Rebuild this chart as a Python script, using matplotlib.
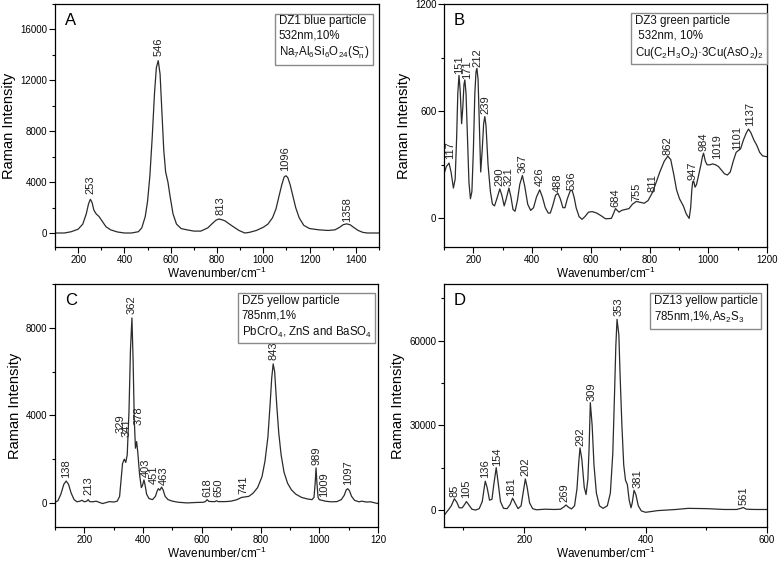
import matplotlib
matplotlib.use("Agg")
import matplotlib.pyplot as plt
from matplotlib.ticker import FixedLocator, FixedFormatter, MultipleLocator

plt.rcParams["font.family"] = ["Liberation Sans", "DejaVu Sans"]
plt.rcParams["mathtext.fontset"] = "custom"
plt.rcParams["mathtext.rm"] = "Liberation Sans"
plt.rcParams["mathtext.it"] = "Liberation Sans:italic"
plt.rcParams["mathtext.bf"] = "Liberation Sans:bold"

# ---- panel A: DZ1 blue particle ----
a_x = [100, 140, 170, 200, 220, 235, 245, 253, 260, 268, 278, 290, 305, 320, 340, 370, 400, 430,
       460, 475, 490, 500, 510, 520, 530, 538, 546, 554, 562, 570, 578, 588, 598, 610, 625, 645,
       670, 700, 730, 760, 780, 795, 808, 820, 835, 850, 870, 895, 920, 940, 970, 1000, 1020,
       1040, 1055, 1068, 1080, 1090, 1098, 1106, 1116, 1128, 1140, 1155, 1175, 1200, 1240, 1280,
       1310, 1330, 1345, 1360, 1375, 1390, 1410, 1430, 1450, 1500]
a_y = [0, 0, 100, 300, 700, 1500, 2300, 2650, 2400, 1800, 1500, 1300, 900, 500, 250, 80, 0, 0,
       100, 400, 1300, 2500, 4500, 7500, 11000, 13000, 13550, 12500, 9500, 6500, 4800, 4000, 2800,
       1500, 700, 350, 250, 150, 150, 400, 750, 1000, 1100, 1050, 950, 750, 500, 200, 0, 50, 200,
       450, 700, 1200, 1900, 2900, 3800, 4400, 4500, 4350, 3800, 2900, 2000, 1200, 600, 350, 250,
       200, 250, 450, 650, 720, 650, 450, 200, 50, 0, 0]
a_peaks = ["253", "546", "813", "1096", "1358"]
a_peak_x = [253, 546, 813, 1096, 1362]
a_peak_y = [3100, 13900, 1400, 4900, 900]

# ---- panel B: DZ3 green particle ----
b_x = [100, 108, 117, 124, 132, 138, 143, 147, 151, 155, 160, 164, 168, 171, 175, 180, 185, 190,
       195, 200, 205, 209, 212, 216, 220, 225, 230, 235, 239, 243, 250, 258, 265, 272, 280, 290,
       297, 305, 312, 321, 328, 335, 342, 350, 358, 367, 375, 385, 395, 405, 415, 426, 435, 445,
       455, 462, 470, 480, 488, 496, 505, 512, 520, 530, 536, 543, 550, 560, 570, 580, 592, 605,
       620, 635, 650, 670, 678, 684, 690, 696, 705, 718, 730, 742, 755, 768, 782, 795, 805, 811,
       820, 835, 850, 862, 872, 882, 892, 902, 915, 925, 935, 940, 944, 947, 950, 955, 960, 968,
       975, 980, 984, 990, 996, 1005, 1015, 1025, 1035, 1045, 1055, 1065, 1075, 1085, 1095, 1101,
       1110, 1120, 1130, 1137, 1145, 1155, 1165, 1175, 1185, 1200]
b_y = [250, 290, 310, 260, 170, 220, 450, 700, 800, 720, 530, 620, 750, 775, 700, 450, 200, 110,
       150, 380, 700, 820, 840, 780, 550, 260, 380, 530, 570, 520, 300, 150, 80, 70, 110, 165,
       130, 70, 110, 170, 120, 50, 40, 100, 190, 240, 180, 80, 45, 60, 120, 160, 120, 60,
       30, 30, 70, 130, 140, 110, 60, 60, 110, 155, 158, 120, 60, 10, -5, 10, 35, 38,
       30, 15, -2, 0, 30, 55, 45, 35, 45, 50, 55, 80, 95, 90, 85, 100, 130, 150,
       190, 260, 320, 348, 330, 250, 160, 110, 70, 25, 0, 60, 160, 205, 210, 175, 190, 250,
       300, 345, 365, 320, 300, 300, 305, 300, 290, 270, 250, 243, 260, 320, 370, 378,
       390, 440, 480, 500, 480, 440, 410, 370, 350, 345]
b_peaks = ["117", "151", "171", "212", "239", "290", "321", "367", "426", "488", "536", "684",
           "755", "811", "862", "947", "984", "1019", "1101", "1137"]
b_peak_x = [122, 150, 179, 214, 241, 290, 321, 367, 426, 488, 536, 684, 755, 811, 862, 947, 984,
            1030, 1098, 1143]
b_peak_y = [330, 810, 780, 845, 585, 180, 180, 255, 180, 150, 160, 66, 100, 150, 356, 216, 375,
            330, 385, 515]

# ---- panel C: DZ5 yellow particle ----
c_x = [100, 110, 120, 130, 138, 146, 155, 165, 175, 185, 192, 200, 208, 213, 218, 228, 240, 250,
       262, 275, 285, 300, 312, 320, 326, 330, 336, 341, 346, 352, 357, 362, 366, 370, 374, 378,
       382, 388, 394, 398, 403, 407, 412, 420, 432, 442, 448, 452, 457, 463, 468, 475, 485, 500,
       520, 550, 580, 605, 612, 618, 624, 635, 645, 650, 656, 680, 700, 720, 735, 745, 760, 775,
       790, 805, 815, 825, 833, 838, 843, 848, 855, 862, 870, 880, 892, 905, 920, 940, 960, 975,
       982, 986, 989, 992, 996, 1000, 1009, 1020, 1040, 1060, 1075, 1085, 1092, 1097, 1103, 1110,
       1120, 1135, 1145, 1160, 1175, 1190, 1200]
c_y = [30, 100, 400, 850, 1000, 850, 450, 150, 50, 80, 120, 50, 80, 150, 60, 50, 80, 30,
       -30, 20, 60, 40, 80, 300, 1200, 1800, 2000, 1850, 2200, 4200, 7000, 8450, 6500, 3800, 2500,
       2800, 2300, 1300, 700, 800, 1050, 800, 400, 200, 150, 300, 550, 650, 580, 720, 600, 300,
       150, 80, 30, 0, 20, 30, 60, 150, 70, 60, 60, 100, 60, 60, 80, 150, 250, 270, 300, 450,
       700, 1200, 1900, 3000, 4600, 5700, 6350, 6000, 4500, 3200, 2200, 1400, 900, 600, 400, 250,
       180, 150, 250, 900, 1600, 900, 250, 150, 120, 80, 50, 60, 150, 350, 600, 650, 550, 300,
       120, 50, 80, 40, 50, 0, -30]
c_peaks = ["138", "213", "329", "341", "362", "378", "403", "451", "463", "618", "650", "741",
           "843", "989", "1009", "1097"]
c_peak_x = [138, 213, 322, 345, 362, 385, 408, 437, 470, 618, 655, 741, 843, 989, 1015, 1097]
c_peak_y = [1150, 350, 3200, 3000, 8650, 3550, 1200, 850, 800, 250, 250, 400, 6550, 1750, 280, 800]

# ---- panel D: DZ13 yellow particle ----
d_x = [68, 72, 76, 80, 85, 89, 93, 98, 102, 105, 109, 114, 120, 126, 131, 134, 136, 139, 143, 147,
       150, 154, 157, 161, 166, 172, 177, 181, 185, 190, 195, 199, 202, 205, 209, 214, 220, 235,
       250, 260, 266, 269, 273, 278, 283, 287, 290, 292, 295, 299, 302, 305, 307, 309, 312, 315,
       319, 324, 330, 337, 342, 346, 349, 351, 353, 356, 358, 361, 364, 367, 370, 373, 376, 378,
       381, 384, 388, 393, 400, 420, 450, 470, 500, 530, 550, 557, 561, 566, 580, 600]
d_y = [-2000, -800, 300, 1500, 4000, 2800, 800, 800, 2000, 3000, 1800, 300, 0, 500, 3000, 7500,
       10200, 8000, 3500, 3800, 9000, 15000, 10000, 3000, 600, 500, 2000, 4200, 2500, 500, 1500,
       7000, 11000, 8000, 2500, 500, 100, 300, 200, 300, 1200, 1800, 1000, 400, 1500, 7500, 17000,
       22000, 18000, 8000, 5500, 11000, 22000, 38000, 30000, 16000, 6000, 1500, 600, 1500, 6000,
       20000, 42000, 58000, 67500, 62000, 48000, 30000, 16000, 10500, 9000, 3500, 800, 2500, 7000,
       5500, 1500, -300, -800, -200, 200, 600, 500, 200, 200, 600, 900, 300, 200, 200]
d_peaks = ["85", "105", "136", "154", "181", "202", "269", "292", "309", "353", "381", "561"]
d_peak_x = [85, 104, 136, 156, 179, 202, 267, 292, 311, 355, 386, 561]
d_peak_y = [4750, 4150, 11300, 15500, 4800, 11900, 3000, 22600, 38600, 68800, 7800, 1800]

LINE = "#2b2b2b"
W, H = 778, 561


def add_axes(fig, left, top, right, bottom):
    return fig.add_axes([left / W, 1 - bottom / H, (right - left) / W, (bottom - top) / H])


def draw_panel(ax, x, y, peaks, px, py, letter, note, note_pos, xlim, ylim,
               xmajor, xminor, ymajor, yminor):
    ax.plot(x, y, color=LINE, lw=0.9)
    for label, lx, ly in zip(peaks, px, py):
        ax.text(lx, ly, label, rotation=90, ha="center", va="bottom", fontsize=8, color="#222")
    ax.set_xlim(*xlim)
    ax.set_ylim(*ylim)
    ax.xaxis.set_major_locator(MultipleLocator(xmajor))
    ax.xaxis.set_minor_locator(MultipleLocator(xminor))
    ax.yaxis.set_major_locator(MultipleLocator(ymajor))
    ax.yaxis.set_minor_locator(MultipleLocator(yminor))
    ax.tick_params(which="both", direction="out", top=False, right=False, labelsize=7, pad=1.5)
    ax.tick_params(which="major", length=4, width=0.8)
    ax.tick_params(which="minor", length=2.5, width=0.8)
    for s in ax.spines.values():
        s.set_linewidth(0.9)
    ax.set_xlabel("Wavenumber/cm$^{-1}$", fontsize=8.5, labelpad=0.5)
    ax.set_ylabel("Raman Intensity", fontsize=10.5, labelpad=3)
    ax.text(0.03, 0.965, letter, transform=ax.transAxes, ha="left", va="top", fontsize=12)
    ax.text(note_pos[0], note_pos[1], note, transform=ax.transAxes, ha="left", va="top",
            fontsize=8.3, linespacing=1.3, color="#111",
            bbox=dict(boxstyle="square,pad=0.3", fc="white", ec="#8a8a8a", lw=1.0))


fig = plt.figure(figsize=(W / 100, H / 100), dpi=100)

ax_a = add_axes(fig, 55, 4, 379, 247)
draw_panel(ax_a, a_x, a_y, a_peaks, a_peak_x, a_peak_y, "A",
           "DZ1 blue particle\n532nm,10%\nNa$_7$Al$_6$Si$_6$O$_{24}$(S$_\\mathrm{n}^{-}$)",
           (0.691, 0.955), (100, 1500), (-1100, 18000), 200, 100, 4000, 2000)

ax_b = add_axes(fig, 444, 4, 767, 247)
draw_panel(ax_b, b_x, b_y, b_peaks, b_peak_x, b_peak_y, "B",
           "DZ3 green particle\n 532nm, 10%\nCu(C$_2$H$_3$O$_2$)·3Cu(AsO$_2$)$_2$",
           (0.59, 0.955), (100, 1200), (-160, 1200), 200, 100, 600, 300)

ax_c = add_axes(fig, 55, 284, 378, 527)
draw_panel(ax_c, c_x, c_y, c_peaks, c_peak_x, c_peak_y, "C",
           "DZ5 yellow particle\n785nm,1%\nPbCrO$_4$, ZnS and BaSO$_4$",
           (0.578, 0.955), (100, 1200), (-1100, 10000), 200, 100, 4000, 2000)
ax_c.xaxis.set_major_locator(FixedLocator([200, 400, 600, 800, 1000, 1200]))
ax_c.xaxis.set_major_formatter(FixedFormatter(["200", "400", "600", "800", "1000", "120"]))

ax_d = add_axes(fig, 444, 284, 767, 527)
draw_panel(ax_d, d_x, d_y, d_peaks, d_peak_x, d_peak_y, "D",
           "DZ13 yellow particle\n785nm,1%,As$_2$S$_3$",
           (0.649, 0.955), (68, 600), (-6000, 80000), 200, 100, 30000, 15000)

fig.savefig("out.png", dpi=100)
